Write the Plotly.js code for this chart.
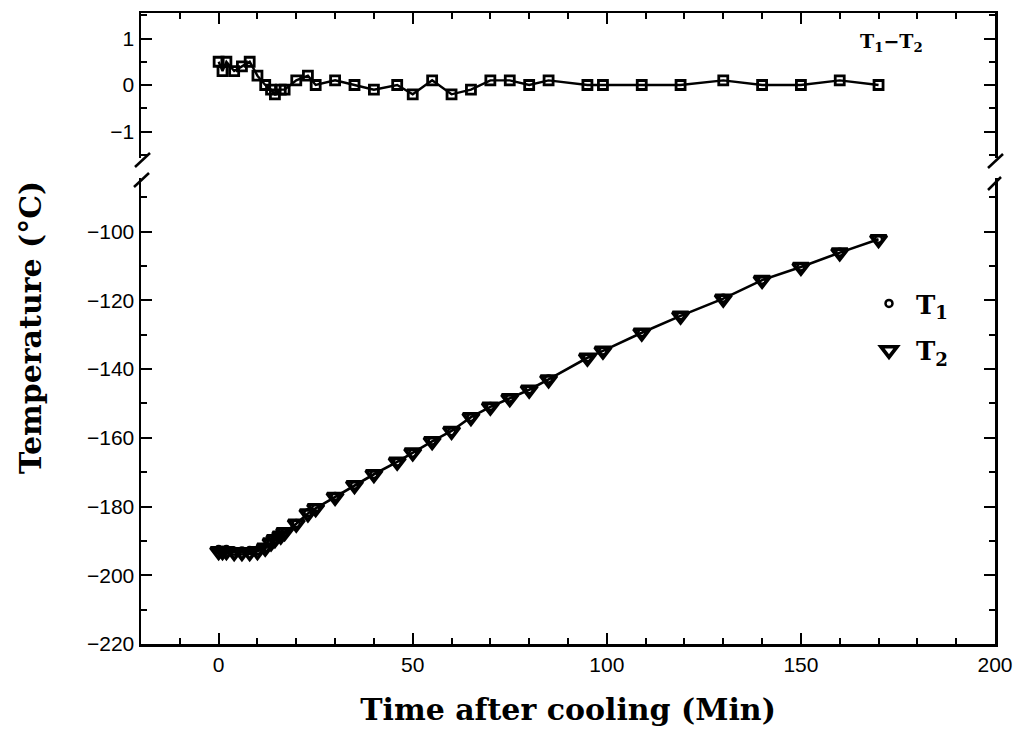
<!DOCTYPE html>
<html>
<head>
<meta charset="utf-8">
<script src="https://cdn.plot.ly/plotly-3.0.1.min.js"></script>
<style>html,body{margin:0;padding:0;background:#fff;}#chart{width:1016px;height:734px;}</style>
</head>
<body>
<div id="chart"></div>
<script>
// Time after cooling (min)
const timeMin = [0, 1, 2, 4, 6, 8, 10, 12, 13.5, 14.5, 16, 17, 20, 23, 25, 30, 35, 40, 46, 50, 55, 60, 65, 70, 75, 80, 85, 95, 99, 109, 119, 130, 140, 150, 160, 170];
// T2 temperature (deg C)
const tempT2 = [-193, -193, -193, -193.3, -193.3, -193.3, -193, -192, -190.5, -189.5, -188.5, -187.5, -185, -182, -180.5, -177.2, -173.8, -170.6, -167, -164.3, -161, -158, -154, -151, -148.5, -146, -143, -136.7, -134.7, -129.4, -124.5, -119.5, -114.1, -110.3, -106.1, -102.2];
// T1 - T2 difference (deg C)
const diffT1T2 = [0.5, 0.3, 0.5, 0.3, 0.4, 0.5, 0.2, 0, -0.1, -0.2, -0.1, -0.1, 0.1, 0.2, 0, 0.1, 0, -0.1, 0, -0.2, 0.1, -0.2, -0.1, 0.1, 0.1, 0, 0.1, 0, 0, 0, 0, 0.1, 0, 0, 0.1, 0];
// T1 temperature derived from T2 and the plotted difference
const tempT1 = tempT2.map((v, i) => v + diffT1T2[i]);

const xTickVals = [0, 50, 100, 150, 200];
const yTickVals = [-220, -200, -180, -160, -140, -120, -100];
const y2TickVals = [-1, 0, 1];

const plotL = 141, plotR = 995, plotT = 13, plotB = 644;
const W = 1016, H = 734;
const px = v => (v - plotL) / (plotR - plotL);
const py = v => (plotB - v) / (plotB - plotT);

const traces = [
  {x: timeMin, y: tempT2, mode: 'lines', line: {color: '#000', width: 2.6}, showlegend: false, hoverinfo: 'skip', xaxis: 'x', yaxis: 'y'},
  {x: timeMin, y: tempT1, mode: 'markers', name: 'T<sub>1</sub>', legendgroup: 'a',
   marker: {symbol: 'circle-open', size: 7, color: '#000', line: {width: 2.5, color: '#000'}}, xaxis: 'x', yaxis: 'y'},
  {x: timeMin, y: tempT2, mode: 'markers', name: 'T<sub>2</sub>', legendgroup: 'b',
   marker: {symbol: 'triangle-down-open', size: 14, color: '#000', line: {width: 3.6, color: '#000'}}, xaxis: 'x', yaxis: 'y'},
  {x: timeMin, y: diffT1T2, mode: 'lines+markers', showlegend: false,
   line: {color: '#000', width: 2.4},
   marker: {symbol: 'square-open', size: 9, color: '#000', line: {width: 2.8, color: '#000'}}, xaxis: 'x2', yaxis: 'y2'}
];

const tickFont = {family: 'Liberation Sans, Arial, sans-serif', size: 21, color: '#000'};
const titleFont = {family: 'DejaVu Serif, serif', size: 30, color: '#000', weight: 'bold'};

const topBottom = 158, botTop = 178;

const brk = (x0, y0, x1, y1) => ({type: 'line', xref: 'paper', yref: 'paper', x0: px(x0), y0: py(y0), x1: px(x1), y1: py(y1), line: {color: '#000', width: 2.5}});

const layout = {
  width: W, height: H,
  margin: {l: plotL, r: W - plotR, t: plotT, b: H - plotB},
  paper_bgcolor: '#fff', plot_bgcolor: '#fff',
  showlegend: true,
  legend: {x: px(862), y: py(280), xanchor: 'left', yanchor: 'top', bgcolor: 'rgba(0,0,0,0)',
           font: {family: 'DejaVu Serif, serif', size: 26, color: '#000', weight: 'bold'}, tracegroupgap: 10, itemwidth: 44},
  xaxis: {domain: [0, 1], range: [-20, 200], anchor: 'y', side: 'bottom',
          tickmode: 'array', tickvals: xTickVals, ticks: 'inside', ticklen: 11, tickwidth: 2, tickcolor: '#000',
          minor: {ticks: 'inside', dtick: 10, tick0: 0, ticklen: 6, tickwidth: 2, tickcolor: '#000'},
          showline: true, linewidth: 2.5, linecolor: '#000', mirror: false, showgrid: false, zeroline: false,
          tickfont: tickFont, automargin: false,
          title: {text: 'Time after cooling (Min)', font: titleFont, standoff: 25}},
  xaxis2: {domain: [0, 1], range: [-20, 200], anchor: 'y2', side: 'top', matches: 'x',
          tickmode: 'array', tickvals: xTickVals, ticks: 'inside', ticklen: 11, tickwidth: 2, tickcolor: '#000',
          minor: {ticks: 'inside', dtick: 10, tick0: 0, ticklen: 6, tickwidth: 2, tickcolor: '#000'},
          showticklabels: false, showline: true, linewidth: 2.5, linecolor: '#000', mirror: false, showgrid: false, zeroline: false},
  yaxis: {domain: [0, py(botTop)], range: [-220, -220 + (plotB - botTop) / 3.436], anchor: 'x',
          tickmode: 'array', tickvals: yTickVals, ticks: 'inside', ticklen: 11, tickwidth: 2, tickcolor: '#000',
          minor: {ticks: 'inside', dtick: 10, tick0: 0, ticklen: 6, tickwidth: 2, tickcolor: '#000'},
          showline: true, linewidth: 2.5, linecolor: '#000', mirror: 'ticks', showgrid: false, zeroline: false,
          tickfont: tickFont, automargin: false},
  yaxis2: {domain: [py(topBottom), 1], range: [-(topBottom - 85) / 46.5, (85 - plotT) / 46.5], anchor: 'x2',
          tickmode: 'array', tickvals: y2TickVals, ticks: 'inside', ticklen: 11, tickwidth: 2, tickcolor: '#000',
          minor: {ticks: 'inside', dtick: 0.5, tick0: 0, ticklen: 6, tickwidth: 2, tickcolor: '#000'},
          showline: true, linewidth: 2.5, linecolor: '#000', mirror: 'ticks', showgrid: false, zeroline: false,
          tickfont: tickFont, automargin: false},
  shapes: [
    brk(135, 167, 150, 153), brk(134, 187, 149, 173),
    brk(988, 168, 1003, 154), brk(988, 190, 1001, 177)
  ],
  annotations: [
    {xref: 'paper', yref: 'paper', x: px(891), y: py(42), text: '<b>T<sub>1</sub>−T<sub>2</sub></b>', showarrow: false,
     font: {family: 'DejaVu Serif, serif', size: 19, color: '#000'}, xanchor: 'center', yanchor: 'middle'},
    {xref: 'paper', yref: 'paper', x: px(30), y: py(328), text: 'Temperature (°C)', textangle: -90, showarrow: false,
     font: titleFont, xanchor: 'center', yanchor: 'middle'}
  ]
};

Plotly.newPlot('chart', traces, layout, {displayModeBar: false, staticPlot: true});
</script>
</body>
</html>
